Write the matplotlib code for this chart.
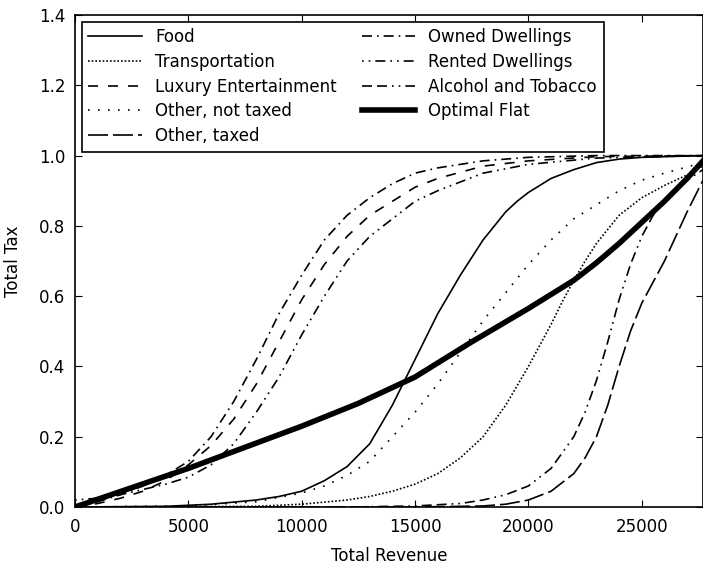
import numpy as np
import matplotlib
matplotlib.use('Agg')
import matplotlib.pyplot as plt

# data
owned_x = [0, 1000, 2000, 3000, 4000, 5000, 6000, 7000, 8000, 9000, 10000, 11000, 12000, 13000, 14000, 15000, 16000, 18000, 20000, 23000, 27700]
owned_y = [0.0, 0.015, 0.035, 0.06, 0.09, 0.13, 0.2, 0.3, 0.42, 0.55, 0.66, 0.76, 0.83, 0.88, 0.92, 0.95, 0.965, 0.985, 0.995, 1.0, 1.0]

lux_x = [0, 1000, 2000, 3000, 4000, 5000, 6000, 7000, 8000, 9000, 10000, 11000, 12000, 13000, 14000, 15000, 16000, 18000, 20000, 23000, 27700]
lux_y = [0.0, 0.01, 0.025, 0.045, 0.075, 0.12, 0.175, 0.25, 0.35, 0.47, 0.59, 0.69, 0.77, 0.83, 0.87, 0.91, 0.935, 0.97, 0.985, 0.997, 1.0]

rented_x = [0, 1000, 2000, 3000, 4000, 5000, 6000, 7000, 8000, 9000, 10000, 11000, 12000, 13000, 14000, 15000, 16000, 18000, 20000, 23000, 27700]
rented_y = [0.02, 0.025, 0.035, 0.05, 0.065, 0.085, 0.12, 0.18, 0.27, 0.37, 0.49, 0.6, 0.7, 0.77, 0.82, 0.87, 0.9, 0.95, 0.975, 0.993, 1.0]

food_x = [0, 4000, 6000, 8000, 9000, 10000, 11000, 12000, 13000, 14000, 14500, 15000, 15500, 16000, 16500, 17000, 17500,
          18000, 18500, 19000, 19500, 20000, 21000, 22000, 23000, 24000, 25000, 27700]
food_y = [0.0, 0.002, 0.008, 0.02, 0.03, 0.045, 0.075, 0.115, 0.18, 0.29, 0.355, 0.42, 0.485, 0.55, 0.605, 0.66, 0.71,
          0.76, 0.80, 0.84, 0.87, 0.895, 0.935, 0.96, 0.98, 0.99, 0.995, 1.0]

notax_x = [0, 5000, 8000, 10000, 11000, 12000, 13000, 14000, 15000, 16000, 17000, 18000, 19000, 20000, 21000, 22000, 23000, 24000, 25000, 26000, 27700]
notax_y = [0.0, 0.003, 0.015, 0.04, 0.06, 0.09, 0.13, 0.2, 0.27, 0.35, 0.44, 0.53, 0.61, 0.69, 0.76, 0.82, 0.86, 0.9, 0.93, 0.95, 0.98]

trans_x = [0, 8000, 10000, 12000, 13000, 14000, 15000, 16000, 17000, 18000, 19000, 20000, 20500, 21000, 21500, 22000, 22500,
           23000, 24000, 25000, 26000, 27000, 27700]
trans_y = [0.0, 0.002, 0.008, 0.02, 0.03, 0.045, 0.065, 0.095, 0.14, 0.2, 0.29, 0.4, 0.46, 0.52, 0.585, 0.645, 0.70,
           0.75, 0.83, 0.88, 0.915, 0.945, 0.97]

alc_x = [0, 12000, 15000, 17000, 18000, 19000, 20000, 21000, 22000, 22500, 23000, 23500, 24000, 24500, 25000, 25500, 26000, 27000, 27700]
alc_y = [0.0, 0.0, 0.003, 0.01, 0.02, 0.035, 0.06, 0.11, 0.2, 0.27, 0.36, 0.47, 0.59, 0.69, 0.77, 0.83, 0.87, 0.93, 0.96]

taxed_x = [0, 15000, 18000, 19000, 20000, 21000, 22000, 22500, 23000, 23500, 24000, 24500, 25000, 25500, 26000, 26500, 27000, 27700]
taxed_y = [0.0, 0.0, 0.003, 0.008, 0.02, 0.045, 0.095, 0.14, 0.2, 0.29, 0.4, 0.5, 0.58, 0.64, 0.7, 0.77, 0.84, 0.93]

flat_x = [0, 2500, 5000, 7500, 10000, 12500, 15000, 17500, 20000, 21000, 22000, 23000, 24000, 25000, 26000, 27000, 27700]
flat_y = [0.0, 0.055, 0.11, 0.17, 0.23, 0.295, 0.37, 0.47, 0.565, 0.605, 0.645, 0.695, 0.75, 0.81, 0.87, 0.935, 0.985]

plt.rcParams['font.family'] = 'DejaVu Sans'
plt.rcParams['font.size'] = 12

fig = plt.figure(figsize=(7.03, 5.66), dpi=100)
ax = fig.add_axes([0.1067, 0.1042, 0.8933, 0.8693])

lw = 1.2
ax.plot(food_x, food_y, 'k-', lw=lw, label='Food')
ax.plot(trans_x, trans_y, 'k', lw=lw, dashes=(1, 1.2), label='Transportation')
ax.plot(lux_x, lux_y, 'k', lw=lw, dashes=(6, 6), label='Luxury Entertainment')
ax.plot(notax_x, notax_y, 'k', lw=lw, dashes=(1, 5), label='Other, not taxed')
ax.plot(taxed_x, taxed_y, 'k', lw=lw, dashes=(12, 3), label='Other, taxed')
ax.plot(owned_x, owned_y, 'k', lw=lw, dashes=(6, 3, 1, 3), label='Owned Dwellings')
ax.plot(rented_x, rented_y, 'k', lw=lw, dashes=(1, 3, 1, 3, 6, 3), label='Rented Dwellings')
ax.plot(alc_x, alc_y, 'k', lw=lw, dashes=(6, 3, 6, 3, 1, 3, 1, 3), label='Alcohol and Tobacco')
ax.plot(flat_x, flat_y, 'k-', lw=4, label='Optimal Flat')

ax.set_xlim(0, 27700)
ax.set_ylim(0, 1.4)
ax.set_xticks([0, 5000, 10000, 15000, 20000, 25000])
ax.set_yticks(np.arange(0, 1.41, 0.2))
ax.tick_params(direction='in', top=True, right=True, length=5, labelsize=12)
ax.tick_params(axis='x', pad=8)
ax.tick_params(axis='y', pad=7)
for s in ax.spines.values():
    s.set_linewidth(1.2)

ax.set_xlabel('Total Revenue', fontsize=12, labelpad=8)
ax.set_ylabel('Total Tax', fontsize=12, labelpad=12)

leg = ax.legend(loc='upper left', ncol=2, fontsize=12, handlelength=3.2,
                fancybox=False, framealpha=1, edgecolor='k',
                labelspacing=0.4, columnspacing=1.5, borderaxespad=0.4)
leg.get_frame().set_linewidth(1.2)

fig.savefig('out.png', dpi=100)
